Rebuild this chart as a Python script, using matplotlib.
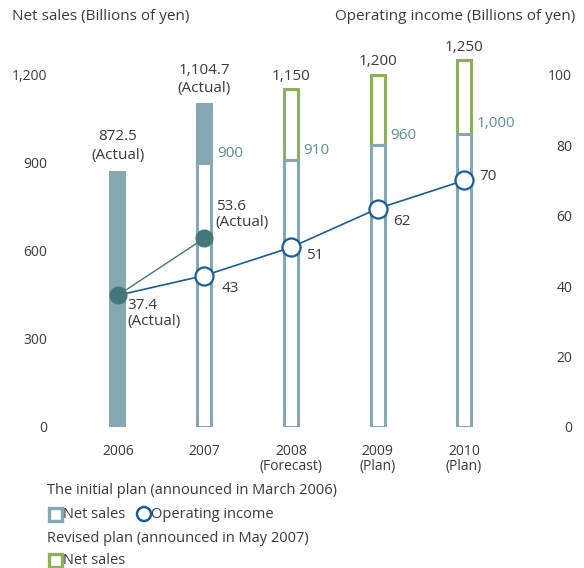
import matplotlib
matplotlib.use("Agg")
import matplotlib.pyplot as plt
from matplotlib.patches import Rectangle, Ellipse

plt.rcParams['font.family'] = ['Open Sans', 'DejaVu Sans']

years = ['2006', '2007', '2008\n(Forecast)', '2009\n(Plan)', '2010\n(Plan)']
actual_sales = [872.5, 1104.7]               # filled bars 2006, 2007
initial_sales = [None, 900, 910, 960, 1000]  # initial plan (outline)
revised_sales = [None, None, 1150, 1200, 1250]  # revised plan (green outline)
initial_income = [37.4, 43, 51, 62, 70]
revised_income = [37.4, 53.6]
left_ticks = [0, 300, 600, 900, 1200]
right_ticks = [0, 20, 40, 60, 80, 100]

BAR = '#86a8b2'
GREEN = '#8db15b'
TEAL_TXT = '#5d8f97'
BLUE = '#1b5c98'
DARK = '#457679'
TXT = '#3a3a3a'

W, H = 584, 568
fig = plt.figure(figsize=(W / 100, H / 100), dpi=100)
ppu = 0.2935
ytop = 1300
x0, x1 = 66, 516
ax = fig.add_axes([x0 / W, (H - 427) / H, (x1 - x0) / W, ytop * ppu / H])
ax.set_xlim(-0.6, 4.6)
ax.set_ylim(0, ytop)
for s in ax.spines.values():
    s.set_visible(False)

xs = list(range(len(years)))
wf = 0.197
wo = 0.162
lw = 2.2

# actual bars
ax.bar(0, actual_sales[0], width=wf, color=BAR, zorder=1)
ax.bar(1, actual_sales[1] - initial_sales[1], bottom=initial_sales[1], width=wf, color=BAR, zorder=1)

# revised plan (green) then initial plan (blue) outlines
for i in range(2, 5):
    ax.bar(i, revised_sales[i] - initial_sales[i], bottom=initial_sales[i], width=wo,
           facecolor='white', edgecolor=GREEN, linewidth=lw, zorder=2)
for i in range(1, 5):
    ax.bar(i, initial_sales[i], width=wo, facecolor='white', edgecolor=BAR, linewidth=lw, zorder=3)

ax.set_yticks(left_ticks)
ax.set_yticklabels([f'{v:,}' for v in left_ticks])
ax.set_xticks(xs)
ax.set_xticklabels(years, linespacing=1.05)
ax.tick_params(axis='y', length=0, pad=13.5, labelsize=10, labelcolor=TXT)
ax.tick_params(axis='x', length=0, pad=12, labelsize=10, labelcolor=TXT)

# bar value labels
fs = 11
ax.annotate('872.5\n(Actual)', (0, actual_sales[0]), xytext=(0, 6), textcoords='offset points',
            ha='center', va='bottom', fontsize=fs, color=TXT, linespacing=1.3)
ax.annotate('1,104.7\n(Actual)', (1, actual_sales[1]), xytext=(0, 5), textcoords='offset points',
            ha='center', va='bottom', fontsize=fs, color=TXT, linespacing=1.3)
for i in range(2, 5):
    ax.annotate(f'{revised_sales[i]:,}', (i, revised_sales[i]), xytext=(0, 4), textcoords='offset points',
                ha='center', va='bottom', fontsize=fs, color=TXT)
for i in range(1, 5):
    ax.annotate(f'{initial_sales[i]:,}', (i + wf / 2, initial_sales[i]), xytext=(3, 7),
                textcoords='offset points', ha='left', va='center', fontsize=fs, color=TEAL_TXT)

# operating income
ax2 = ax.twinx()
ax2.set_ylim(0, ytop / 12)
for s in ax2.spines.values():
    s.set_visible(False)
ax2.set_yticks(right_ticks)
ax2.set_yticklabels([str(v) for v in right_ticks], ha='right')
ax2.tick_params(axis='y', length=0, pad=40.5, labelsize=10, labelcolor=TXT)

ax2.plot(xs[:2], revised_income, color=DARK, linewidth=1.0, zorder=4)
ax2.plot(xs, initial_income, color=BLUE, linewidth=1.2, zorder=4)
ax2.plot(xs[1:], initial_income[1:], 'o', markersize=13, markerfacecolor='white',
         markeredgecolor=BLUE, markeredgewidth=1.6, zorder=5)
ax2.plot(xs[:2], revised_income, 'o', markersize=12, color=DARK, zorder=6)

ax2.annotate('37.4\n(Actual)', (0, initial_income[0]), xytext=(7, -2), textcoords='offset points',
             ha='left', va='top', fontsize=fs, color=TXT, linespacing=1.05)
ax2.annotate('53.6\n(Actual)', (1, revised_income[1]), xytext=(8, 6), textcoords='offset points',
             ha='left', va='bottom', fontsize=fs, color=TXT, linespacing=1.05)
inc_off = [None, (12, -9), (11, -6), (11, -9), (11, 3)]
for i in range(1, 5):
    ax2.annotate(f'{initial_income[i]}', (i, initial_income[i]), xytext=inc_off[i],
                 textcoords='offset points', ha='left', va='center', fontsize=fs, color=TXT)

# axis titles
fig.text(12 / W, 1 - 17 / H, 'Net sales (Billions of yen)', ha='left', va='center', fontsize=11, color=TXT)
fig.text(575 / W, 1 - 17 / H, 'Operating income (Billions of yen)', ha='right', va='center',
         fontsize=11, color=TXT)

# legend
def fx(px):
    return px / W

def fy(py):
    return 1 - py / H

lfs = 10.5
fig.text(fx(47), fy(491), 'The initial plan (announced in March 2006)', ha='left', va='center',
         fontsize=lfs, color=TXT)
fig.patches.append(Rectangle((fx(48.5), fy(520.5)), 13 / W, 13 / H, transform=fig.transFigure,
                             facecolor='white', edgecolor=BAR, linewidth=2.4))
fig.text(fx(63), fy(514), 'Net sales', ha='left', va='center', fontsize=lfs, color=TXT)
fig.patches.append(Ellipse((fx(144), fy(514)), 14 / W, 14 / H, transform=fig.transFigure,
                           facecolor='white', edgecolor=BLUE, linewidth=1.8))
fig.text(fx(151), fy(514), 'Operating income', ha='left', va='center', fontsize=lfs, color=TXT)
fig.text(fx(47), fy(538), 'Revised plan (announced in May 2007)', ha='left', va='center',
         fontsize=lfs, color=TXT)
fig.patches.append(Rectangle((fx(48.5), fy(566.5)), 13 / W, 13 / H, transform=fig.transFigure,
                             facecolor='white', edgecolor=GREEN, linewidth=2.4))
fig.text(fx(63), fy(560), 'Net sales', ha='left', va='center', fontsize=lfs, color=TXT)

fig.savefig('out.png', dpi=100)
